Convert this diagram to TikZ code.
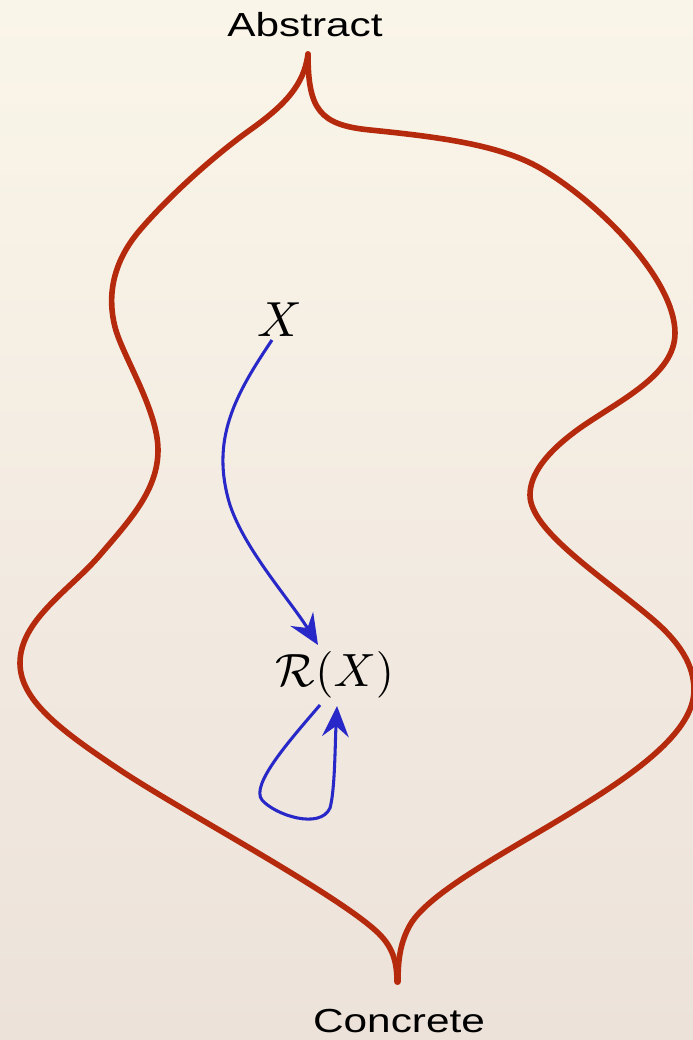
\documentclass[tikz,border=0pt]{standalone}
\usepackage{fontspec}
\newfontfamily\labelfont{Liberation Sans}
\usetikzlibrary{arrows.meta,calc}
\definecolor{bgtop}{RGB}{250,245,233}
\definecolor{bgbot}{RGB}{236,226,218}
\definecolor{regionred}{RGB}{181,42,12}
\definecolor{arrowblue}{RGB}{40,40,200}
\tikzset{
  region/.style={draw=regionred,line width=4.2pt,line cap=round,line join=round},
  maparrow/.style={draw=arrowblue,line width=2.3pt,-{Stealth[length=23pt,width=20pt,inset=8pt]}},
  sidelabel/.style={inner sep=0pt,font=\labelfont\fontsize{25}{30}\selectfont},
  mathlabel/.style={inner sep=0pt}
}
\begin{document}
\begin{tikzpicture}[x=0.75pt,y=-0.75pt]
\useasboundingbox (0,0) rectangle (693,1040);
\shade[top color=bgtop,bottom color=bgbot] (0,0) rectangle (693,1040);
% region outline: left arm
\draw[region] (308,54) .. controls (304,85) and (285,105) .. (250,130)
  .. controls (215,155) and (170,195) .. (140,230)
  .. controls (110,265) and (108,300) .. (115,327)
  .. controls (122,355) and (158,410) .. (158,450)
  .. controls (158,490) and (130,520) .. (100,555)
  .. controls (70,590) and (20,620) .. (20,663)
  .. controls (20,700) and (60,730) .. (120,770)
  .. controls (180,810) and (330,890) .. (375,930)
  .. controls (392,945) and (397,960) .. (397,982);
% region outline: right arm
\draw[region] (308,54) .. controls (308,110) and (320,125) .. (370,130)
  .. controls (440,137) and (500,145) .. (540,168)
  .. controls (600,203) and (675,280) .. (675,333)
  .. controls (675,375) and (620,400) .. (580,428)
  .. controls (545,453) and (530,475) .. (530,495)
  .. controls (530,530) and (600,575) .. (650,617)
  .. controls (680,642) and (694,665) .. (694,690)
  .. controls (694,730) and (640,770) .. (580,807)
  .. controls (520,845) and (430,890) .. (410,925)
  .. controls (400,943) and (398,960) .. (398,982);
% labels
\node[sidelabel] (abs) at (305,25) {\scalebox{1.27}[1]{Abstract}};
\node[sidelabel] (con) at (399,1021) {\scalebox{1.27}[1]{Concrete}};
\node[mathlabel] (X) at (280,320) {\scalebox{3.7}{$X$}};
\node[mathlabel] (RX) at (335,675) {\scalebox{3.5}{$\mathcal{R}(X)$}};
% arrows
\draw[maparrow] ($(X.center)+(-8,20)$) .. controls (235,395) and (210,440) .. (230,505)
  .. controls (245,550) and (290,600) .. ($(RX.center)+(-17,-30)$);
\draw[maparrow] ($(RX.center)+(-15,30)$) .. controls (290,740) and (250,785) .. (262,800)
  .. controls (275,815) and (320,830) .. (330,808)
  .. controls (335,790) and (335,745) .. ($(RX.center)+(2,31)$);
\end{tikzpicture}
\end{document}
